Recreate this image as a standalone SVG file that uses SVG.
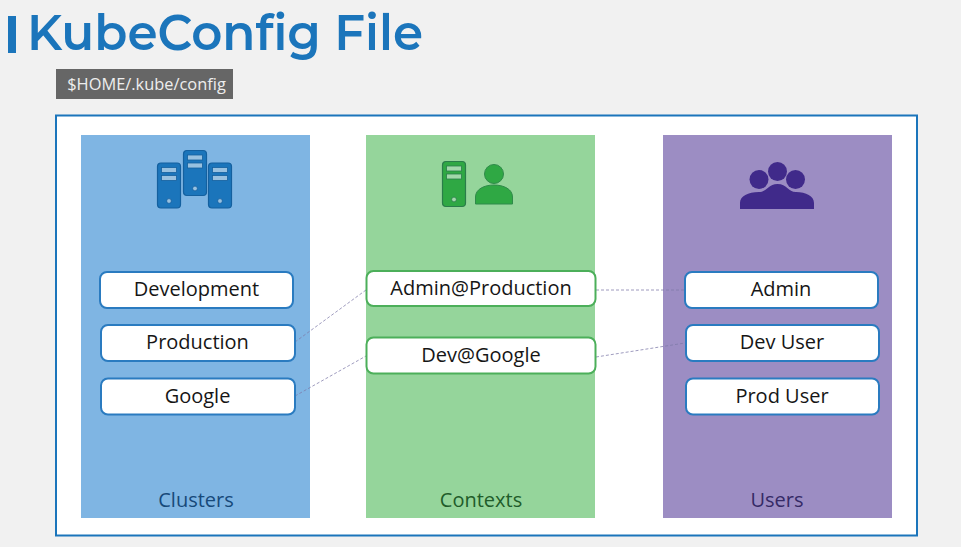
<svg xmlns="http://www.w3.org/2000/svg" width="961" height="547" viewBox="0 0 961 547">
<style>
.t{font-family:"Open Sans","Noto Sans",sans-serif;text-anchor:middle;font-size:20px;fill:#161616}
.n{fill:#fff;stroke-width:2}
.b{stroke:#2a7bc0}
.g{stroke:#4caf5a}
.p{stroke:#2a7bc0}
.c{stroke:#7e79a8;stroke-opacity:.75;stroke-width:1;stroke-dasharray:3 2;fill:none}
.lab{font-family:"Open Sans","Noto Sans",sans-serif;text-anchor:middle;font-size:20px}
</style>
<defs>
<g id="srv"><rect x="0" y="0" width="23" height="45" rx="3.500" stroke="currentColor" stroke-width="1.200"/>
<rect x="4" y="4.500" width="15" height="5" fill="#fff" fill-opacity=".55" stroke="currentColor" stroke-width=".8"/>
<rect x="4" y="12.500" width="15" height="5" fill="#fff" fill-opacity=".55" stroke="currentColor" stroke-width=".8"/>
<circle cx="11.500" cy="38" r="2.400" fill="#fff" fill-opacity=".55" stroke="currentColor" stroke-width=".8"/></g>
</defs>
<rect width="961" height="547" fill="#f1f1f1"/>
<g id="title">
<rect x="8" y="16" width="8" height="37" fill="#1b75bb"/>
<text x="27" y="50" font-family="Montserrat,'Open Sans','Noto Sans',sans-serif" font-size="49" font-weight="600" fill="#1b75bb" textLength="396" lengthAdjust="spacingAndGlyphs">KubeConfig File</text>
</g>
<g id="path-badge">
<rect x="56" y="69" width="177" height="30" fill="#666"/>
<text x="146.500" y="90" font-family="'Open Sans','Noto Sans',sans-serif" font-size="16.400" fill="#eee" text-anchor="middle">$HOME/.kube/config</text>
</g>
<rect id="frame" x="56" y="115.500" width="861" height="420" fill="#fff" stroke="#1b75bb" stroke-width="2"/>
<g id="clusters">
<rect x="81" y="135" width="229" height="383" fill="#7fb5e3"/>
<g fill="#1b75bb" color="#14609f"><use href="#srv" x="157.500" y="163"/><use href="#srv" x="183.500" y="150.500"/><use href="#srv" x="208.500" y="163"/></g>
<text class="lab" x="196" y="507" fill="#17497a">Clusters</text>
</g>
<g id="contexts">
<rect x="366" y="135" width="229" height="383" fill="#95d59b"/>
<g fill="#2fa844" color="#2a7d4a"><use href="#srv" x="442.500" y="161.500"/></g>
<circle cx="494" cy="174" r="9.500" fill="#2fa844" stroke="#2f8a4a"/>
<path d="M475.500 204v-7c0-8 9-12 18.500-12s18.500 4 18.500 12v7z" fill="#2fa844" stroke="#2f8a4a"/>
<text class="lab" x="481" y="507" fill="#1f5c2a">Contexts</text>
</g>
<g id="users">
<rect x="663" y="135" width="229" height="383" fill="#9c8dc3"/>
<g fill="#402a8a"><circle cx="777.500" cy="171.500" r="9.500"/><circle cx="759" cy="179.500" r="9.500"/><circle cx="795.500" cy="179.500" r="9.500"/>
<path d="M740 209v-6c0-7 8-11 19-11 8 0 9-8 18.500-8s10.500 8 18.500 8c10 0 18 4 18 11v6z"/></g>
<text class="lab" x="777" y="507" fill="#352a66">Users</text>
</g>
<g id="connectors">
<path class="c" d="M295 342L366 290"/>
<path class="c" d="M295 396L366 356"/>
<path class="c" d="M596 290H685"/>
<path class="c" d="M596 357L685 343"/>
</g>
<g id="development"><rect class="n b" x="100" y="272" width="193" height="36" rx="7"/><text class="t" x="196.500" y="296">Development</text></g>
<g id="production"><rect class="n b" x="101" y="325" width="194" height="36" rx="7"/><text class="t" x="197.500" y="349">Production</text></g>
<g id="google"><rect class="n b" x="101" y="378.500" width="194" height="36" rx="7"/><text class="t" x="197.500" y="403">Google</text></g>
<g id="admin-production"><rect class="n g" x="366.500" y="271" width="229" height="35" rx="7"/><text class="t" x="481" y="295">Admin@Production</text></g>
<g id="dev-google"><rect class="n g" x="366.500" y="337.500" width="229" height="36" rx="7"/><text class="t" x="481" y="362">Dev@Google</text></g>
<g id="admin"><rect class="n p" x="685" y="272" width="193" height="36" rx="7"/><text class="t" x="781" y="296">Admin</text></g>
<g id="dev-user"><rect class="n p" x="686" y="325" width="193" height="36" rx="7"/><text class="t" x="782" y="349">Dev User</text></g>
<g id="prod-user"><rect class="n p" x="686" y="378.500" width="193" height="36" rx="7"/><text class="t" x="782" y="403">Prod User</text></g>
</svg>
